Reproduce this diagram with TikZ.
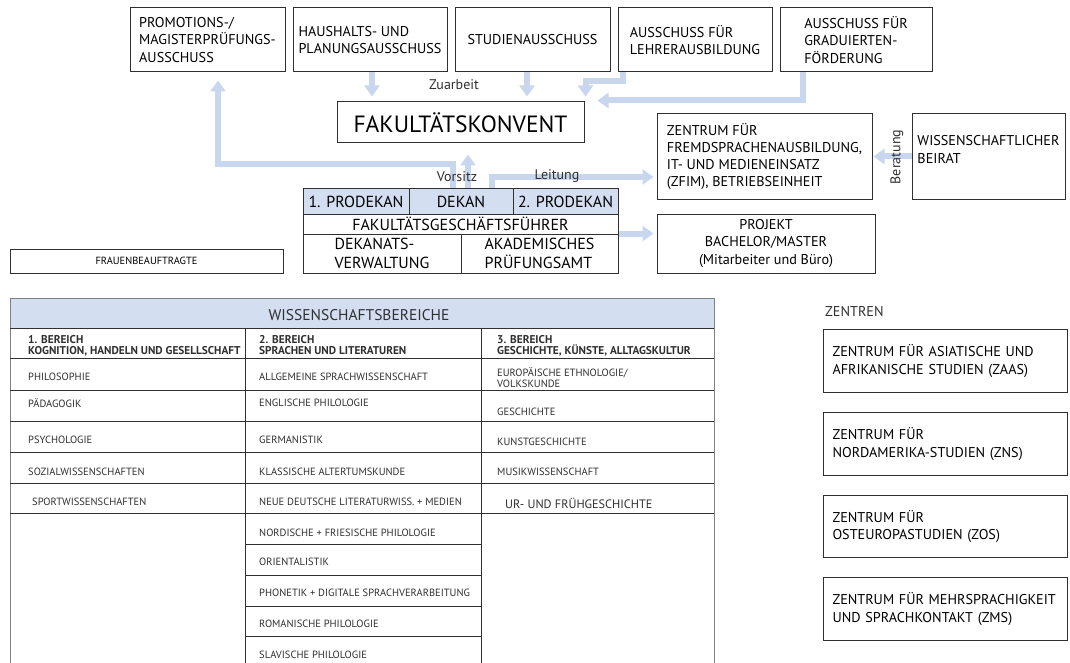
\documentclass[tikz,border=0pt]{standalone}
\usepackage{fontspec}
\setmainfont{PT Sans}
\usetikzlibrary{arrows.meta,calc}
\definecolor{flowc}{HTML}{C8D6EE}
\definecolor{hdrc}{HTML}{D3DEF1}
\definecolor{linec}{HTML}{303030}
\definecolor{framec}{HTML}{808080}
\newcommand\fsBox{\fontsize{14.2}{17.2}\selectfont}
\newcommand\fsBig{\fontsize{23.5}{26}\selectfont}
\newcommand\fsDek{\fontsize{16}{19.5}\selectfont}
\newcommand\fsLab{\fontsize{14}{15}\selectfont}
\newcommand\fsTab{\fontsize{10.5}{11}\selectfont}
\newcommand\fsSub{\fontsize{11.3}{11}\selectfont\bfseries}
\newcommand\fsHdr{\fontsize{15.5}{18}\selectfont}
\begin{document}
\begin{tikzpicture}[x=1pt,y=-1pt,
  box/.style={draw=linec, line width=1pt, inner sep=0pt, align=left, font=\fsBox},
  cell/.style={draw=linec, line width=1pt, inner sep=0pt, font=\fsDek},
  flow/.style={draw=flowc, line width=6pt, -{Triangle[length=11pt,width=15pt]}},
  lab/.style={inner sep=0pt, font=\fsLab, text=linec},
  ttxt/.style={inner sep=0pt, anchor=west, font=\fsTab, text=linec, align=left},
  tline/.style={draw=linec, line width=0.9pt},
  fline/.style={draw=framec, line width=1pt}]
\useasboundingbox (0,0) rectangle (1070,663);
\fill[white] (0,0) rectangle (1070,663);

% ---------- top committees ----------
\node[box, minimum width=155pt, minimum height=64pt] (prom) at (207.5,40) {PROMOTIONS-/\\MAGISTERPRÜFUNGS-\\AUSSCHUSS};
\node[box, minimum width=154pt, minimum height=64pt] (haus) at (370,40) {HAUSHALTS- UND\\PLANUNGSAUSSCHUSS};
\node[box, minimum width=155pt, minimum height=64pt] (stud) at (532.5,40) {STUDIENAUSSCHUSS};
\node[box, minimum width=154pt, minimum height=64pt] (lehr) at (695,40) {AUSSCHUSS FÜR\\LEHRERAUSBILDUNG};
\node[box, minimum width=152pt, minimum height=64pt] (grad) at (856,40) {AUSSCHUSS FÜR\\GRADUIERTEN-\\FÖRDERUNG};

\node[box, minimum width=247pt, minimum height=41pt, font=\fsBig] (konvent) at (460.5,122.5) {FAKULTÄTSKONVENT};

% ---------- Dekanat ----------
\node[cell, fill=hdrc, minimum width=106pt, minimum height=25pt] (p1) at (356,201.5) {1. PRODEKAN};
\node[cell, fill=hdrc, minimum width=104pt, minimum height=25pt] (dek) at (461,201.5) {DEKAN};
\node[cell, fill=hdrc, minimum width=105pt, minimum height=25pt] (p2) at (565.5,201.5) {2. PRODEKAN};
\node[cell, minimum width=315pt, minimum height=20pt] (fgf) at (460.5,224) {FAKULTÄTSGESCHÄFTSFÜHRER};
\node[cell, align=left, minimum width=158pt, minimum height=39pt] (verw) at (382,253.5) {DEKANATS-\\VERWALTUNG};
\node[cell, align=left, minimum width=157pt, minimum height=39pt] (pruef) at (539.5,253.5) {AKADEMISCHES\\PRÜFUNGSAMT};

% ---------- right side ----------
\node[box, minimum width=215pt, minimum height=85pt] (zfim) at (764.5,156.5) {ZENTRUM FÜR\\FREMDSPRACHENAUSBILDUNG,\\IT- UND MEDIENEINSATZ\\(ZFIM), BETRIEBSEINHEIT};
\node[box, minimum width=153pt, minimum height=85pt, text depth=14pt] (beirat) at (988.5,156.5) {WISSENSCHAFTLICHER\\BEIRAT};
\node[box, align=center, minimum width=218pt, minimum height=59pt] (projekt) at (766,243.5) {PROJEKT\\BACHELOR/MASTER\\(Mitarbeiter und Büro)};

\node[box, font=\fontsize{10.4}{12}\selectfont, minimum width=273pt, minimum height=24pt] (frauen) at (146.5,261) {FRAUENBEAUFTRAGTE};

% ---------- arrows ----------
\draw[flow, shorten >=5pt] ([xshift=2pt]haus.south) -- ([xshift=2pt]haus.south |- konvent.north);
\draw[flow, shorten >=5pt] ([xshift=-5.5pt]stud.south) -- ([xshift=-5.5pt]stud.south |- konvent.north);
\draw[flow, shorten >=5pt] ([xshift=-72pt]lehr.south) -- ++(0,9) -| ([xshift=1pt]konvent.north east);
\draw[flow] ([xshift=-53pt]grad.south) |- ($(konvent.north east)+(13,-1)$);
\draw[flow] ([xshift=-8pt]dek.north) -- ++(0,-24) -| ($(prom.south)+(10.5,8)$);
\draw[flow, shorten >=11pt] ([xshift=7pt]dek.north) -- ([xshift=7.5pt]konvent.south);
\draw[flow, shorten >=3pt] ([xshift=31pt]dek.north) |- ($(zfim.west)+(0,20.5)$);
\draw[flow, shorten >=3pt] (pruef.north east) -- (projekt.west |- pruef.north east);
\draw[flow, shorten >=1pt] (beirat.west) -- (zfim.east);

% ---------- arrow labels ----------
\node[lab] (zuarbeit) at (454,85) {Zuarbeit};
\node[lab] (vorsitz) at (457,177) {Vorsitz};
\node[lab] (leitung) at (557,176) {Leitung};
\node[lab, rotate=90] (beratung) at (897,157) {Beratung};

% ---------- Wissenschaftsbereiche table ----------
\fill[hdrc] (10,298) rectangle (714,328);
\draw[fline] (10,298) -- (714,298);
\draw[fline] (10,298) -- (10,663);
\draw[fline] (714,298) -- (714,663);
\foreach \yy in {328,358,390,421,452,483,513} \draw[tline] (10,\yy) -- (714,\yy);
\foreach \yy in {544,575,606,636} \draw[tline] (245,\yy) -- (481,\yy);
\draw[tline] (245,328) -- (245,663);
\draw[tline] (481,328) -- (481,663);

\node[inner sep=0pt, font=\fsHdr, text=linec] (wbhdr) at (359,315) {WISSENSCHAFTSBEREICHE};

\node[ttxt, font=\fsSub] (b1) at (28,345.5) {1. BEREICH\\KOGNITION, HANDELN UND GESELLSCHAFT};
\node[ttxt, font=\fsSub] (b2) at (259,345.5) {2. BEREICH\\SPRACHEN UND LITERATUREN};
\node[ttxt, font=\fsSub] (b3) at (497,345.5) {3. BEREICH\\GESCHICHTE, KÜNSTE, ALLTAGSKULTUR};

\node[ttxt] (c11) at (28,377) {PHILOSOPHIE};
\node[ttxt] (c12) at (28,403) {PÄDAGOGIK};
\node[ttxt] (c13) at (28,440) {PSYCHOLOGIE};
\node[ttxt] (c14) at (28,472) {SOZIALWISSENSCHAFTEN};
\node[ttxt] (c15) at (32,502) {SPORTWISSENSCHAFTEN};

\node[ttxt] (c21) at (259,377) {ALLGEMEINE SPRACHWISSENSCHAFT};
\node[ttxt] (c22) at (259,403) {ENGLISCHE PHILOLOGIE};
\node[ttxt] (c23) at (259,440) {GERMANISTIK};
\node[ttxt] (c24) at (259,472) {KLASSISCHE ALTERTUMSKUNDE};
\node[ttxt] (c25) at (259,502) {NEUE DEUTSCHE LITERATURWISS. + MEDIEN};
\node[ttxt] (c26) at (259,533) {NORDISCHE + FRIESISCHE PHILOLOGIE};
\node[ttxt] (c27) at (259,562) {ORIENTALISTIK};
\node[ttxt] (c28) at (259,593) {PHONETIK + DIGITALE SPRACHVERARBEITUNG};
\node[ttxt] (c29) at (259,624) {ROMANISCHE PHILOLOGIE};
\node[ttxt] (c210) at (259,655) {SLAVISCHE PHILOLOGIE};

\node[ttxt] (c31) at (497,377.5) {EUROPÄISCHE ETHNOLOGIE/\\VOLKSKUNDE};
\node[ttxt] (c32) at (497,412) {GESCHICHTE};
\node[ttxt] (c33) at (497,442) {KUNSTGESCHICHTE};
\node[ttxt] (c34) at (497,472) {MUSIKWISSENSCHAFT};
\node[ttxt, font=\fontsize{12.2}{13}\selectfont] (c35) at (505,503) {UR- UND FRÜHGESCHICHTE};

% ---------- Zentren ----------
\node[inner sep=0pt, anchor=west, font=\fsBox, text=linec] (zentren) at (825,312) {ZENTREN};
\node[box, anchor=north west, minimum width=244pt, minimum height=63pt, text width=226pt, inner xsep=9pt] (zaas) at (823,329) {ZENTRUM FÜR ASIATISCHE UND\\AFRIKANISCHE STUDIEN (ZAAS)};
\node[box, anchor=north west, minimum width=244pt, minimum height=63pt, text width=226pt, inner xsep=9pt] (zns) at (823,412) {ZENTRUM FÜR\\NORDAMERIKA-STUDIEN (ZNS)};
\node[box, anchor=north west, minimum width=244pt, minimum height=62pt, text width=226pt, inner xsep=9pt] (zos) at (823,495) {ZENTRUM FÜR\\OSTEUROPASTUDIEN (ZOS)};
\node[box, anchor=north west, minimum width=244pt, minimum height=63pt, text width=226pt, inner xsep=9pt] (zms) at (823,577) {ZENTRUM FÜR MEHRSPRACHIGKEIT\\UND SPRACHKONTAKT (ZMS)};
\end{tikzpicture}
\end{document}
